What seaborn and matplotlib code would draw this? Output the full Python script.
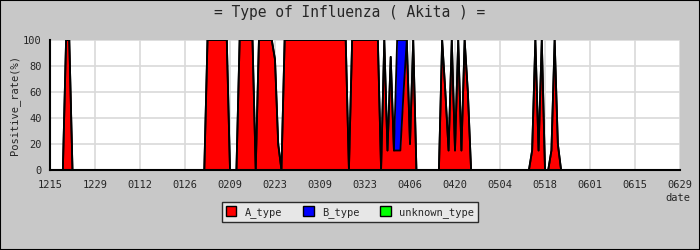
import numpy as np
import pandas as pd
import matplotlib
matplotlib.use("Agg")
import matplotlib.pyplot as plt
import seaborn as sns
from matplotlib.patches import Rectangle, Patch

# ---- data (daily, 2018-12-15 .. 2019-06-29) ----
dates = pd.date_range("2018-12-15", "2019-06-29", freq="D")
A_type = [
    0, 0, 0, 0, 0, 100, 100, 0, 0, 0,            # 0-9
    0, 0, 0, 0, 0, 0, 0, 0, 0, 0,                # 10-19
    0, 0, 0, 0, 0, 0, 0, 0, 0, 0,                # 20-29
    0, 0, 0, 0, 0, 0, 0, 0, 0, 0,                # 30-39
    0, 0, 0, 0, 0, 0, 0, 0, 0, 100,              # 40-49
    100, 100, 100, 100, 100, 100, 0, 0, 0, 100,  # 50-59
    100, 100, 100, 100, 0, 100, 100, 100, 100, 100,  # 60-69
    85, 20, 0, 100, 100, 100, 100, 100, 100, 100,    # 70-79
    100, 100, 100, 100, 100, 100, 100, 100, 100, 100,  # 80-89
    100, 100, 100, 0, 100, 100, 100, 100, 100, 100,    # 90-99
    100, 100, 100, 0, 100, 15, 87, 15, 15, 15,        # 100-109
    60, 100, 20, 100, 0, 0, 0, 0, 0, 0,               # 110-119
    0, 0, 100, 60, 15, 100, 15, 100, 15, 100,         # 120-129
    60, 0, 0, 0, 0, 0, 0, 0, 0, 0,                    # 130-139
    0, 0, 0, 0, 0, 0, 0, 0, 0, 0,                     # 140-149
    15, 100, 15, 100, 0, 0, 15, 100, 20, 0,           # 150-159
    0, 0, 0, 0, 0, 0, 0, 0, 0, 0,                     # 160-169
    0, 0, 0, 0, 0, 0, 0, 0, 0, 0,                     # 170-179
    0, 0, 0, 0, 0, 0, 0, 0, 0, 0,                     # 180-189
    0, 0, 0, 0, 0, 0, 0,                              # 190-196
]
B_type = [0] * 108 + [85, 85, 40] + [0] * 86
unknown_type = [0] * 197

tick_step = 14
y_ticks = [0, 20, 40, 60, 80, 100]

# ---- figure ----
sns.set_style("white")
plt.rcParams["font.family"] = ["DejaVu Sans Mono"]

BG = "#c8c8c8"
fig = plt.figure(figsize=(7, 2.5), dpi=100, facecolor=BG)
ax = fig.add_axes([50 / 700, 1 - 170 / 250, 630 / 700, 130 / 250])
ax.set_facecolor("white")

df = pd.DataFrame({"day": np.arange(len(dates)), "A": A_type, "B": B_type, "U": unknown_type})
df["AB"] = df["A"] + df["B"]
df["ABU"] = df["AB"] + df["U"]

# grid (behind data)
for yt in y_ticks:
    ax.axhline(yt, color="#d9d9d9", lw=1.2, zorder=0.5)
for xt in range(0, len(dates), tick_step):
    ax.axvline(xt, color="#d9d9d9", lw=1.2, zorder=0.5)

ax.fill_between(df["day"], 0, df["A"], color="#ff0000", lw=0, zorder=1)
ax.fill_between(df["day"], df["A"], df["AB"], color="#0000ff", lw=0, zorder=1)
ax.fill_between(df["day"], df["AB"], df["ABU"], color="#00ff00", lw=0, zorder=1)

sns.lineplot(data=df, x="day", y="A", color="black", lw=1.3, ax=ax, zorder=2)
sns.lineplot(data=df, x="day", y="AB", color="black", lw=1.3, ax=ax, zorder=2)

ax.set_xlim(0, len(dates) - 1)
ax.set_ylim(0, 100)
xt = list(range(0, len(dates), tick_step))
ax.set_xticks(xt)
ax.set_xticklabels([dates[i].strftime("%m%d") for i in xt], fontsize=7.5)
ax.set_yticks(y_ticks)
ax.set_yticklabels([str(v) for v in y_ticks], fontsize=7.5)
ax.set_yticks(range(0, 101, 10), minor=True)
ax.tick_params(axis="x", which="major", direction="in", length=4, width=1, color="black", pad=7)
ax.tick_params(axis="y", which="major", direction="in", length=4, width=1, color="black", pad=6)
ax.tick_params(axis="y", which="minor", direction="in", length=2.5, width=1, color="black")
ax.set_xlabel("")
ax.set_ylabel("Positive_rate(%)", fontsize=7.5, labelpad=2)

for s in ["top", "right"]:
    ax.spines[s].set_visible(False)
for s in ["left", "bottom"]:
    ax.spines[s].set_color("black")
    ax.spines[s].set_linewidth(1.5)
    ax.spines[s].set_zorder(3)

fig.text(0.5, 1 - 13 / 250, "= Type of Influenza ( Akita ) =", ha="center", va="center", fontsize=10.5)
fig.text(690 / 700, 1 - 198 / 250, "date", ha="right", va="center", fontsize=7.5)

handles = [
    Patch(facecolor="#ff0000", edgecolor="black", label="A_type"),
    Patch(facecolor="#0000ff", edgecolor="black", label="B_type"),
    Patch(facecolor="#00ff00", edgecolor="black", label="unknown_type"),
]
leg = fig.legend(handles=handles, loc="center", bbox_to_anchor=(350 / 700, 1 - 212 / 250), ncol=3,
                 fontsize=7.5, frameon=True, fancybox=False, handlelength=1.0, handleheight=1.0,
                 columnspacing=2.0, handletextpad=0.8, borderpad=0.4)
leg.get_frame().set_facecolor("#f0f0f0")
leg.get_frame().set_edgecolor("black")
leg.get_frame().set_linewidth(1.0)

fig.patches.append(Rectangle((0, 0), 1, 1, transform=fig.transFigure, fill=False,
                             edgecolor="black", lw=1.5, zorder=10))

fig.savefig("out.png", dpi=100, facecolor=BG)
